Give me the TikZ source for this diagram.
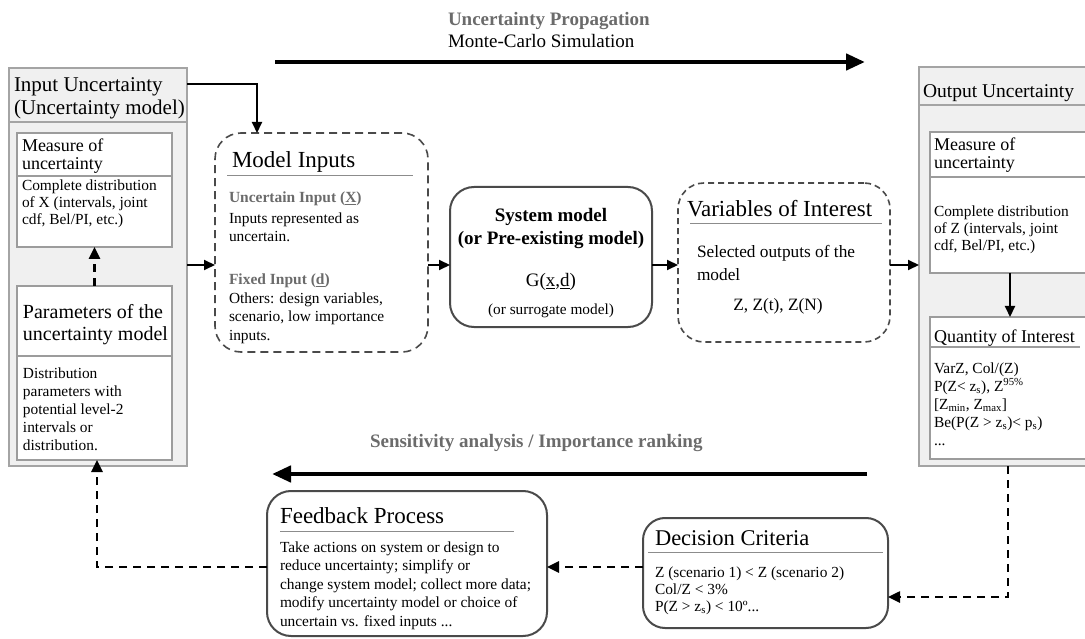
\documentclass[tikz,border=0pt]{standalone}
\usepackage{fontspec}
\setmainfont{Liberation Serif}
\usetikzlibrary{arrows.meta,calc}

\definecolor{panelfill}{HTML}{F0F0F0}
\definecolor{panelline}{HTML}{A4A4A4}
\definecolor{boxline}{HTML}{9C9C9C}
\definecolor{darkline}{HTML}{4A4A4A}
\definecolor{labelgray}{HTML}{6B6B6B}
\definecolor{rulegray}{HTML}{8C8C8C}

\newcommand{\fs}[2]{\fontsize{#1}{#2}\selectfont}

\begin{document}
\begin{tikzpicture}[x=1pt,y=-1pt,
  panel/.style={draw=panelline, fill=panelfill, line width=1.3pt, rectangle,
    inner sep=0pt, outer sep=0pt, anchor=north west},
  innerbox/.style={draw=boxline, fill=white, line width=1.2pt, rectangle,
    inner sep=0pt, outer sep=0pt, anchor=north west},
  dashbox/.style={draw=darkline, line width=1.6pt, dash pattern=on 8pt off 5pt,
    rounded corners=26pt, rectangle, inner sep=0pt, outer sep=0pt, anchor=north west},
  solidbox/.style={draw=darkline, line width=2pt, fill=white, rounded corners=24pt,
    rectangle, inner sep=0pt, outer sep=0pt, anchor=north west},
  txt/.style={anchor=base west, inner sep=0pt, outer sep=0pt},
  ctxt/.style={anchor=base, inner sep=0pt, outer sep=0pt},
  label/.style={txt, text=labelgray, font=\bfseries\fs{19}{22}},
  sub/.style={txt, text=labelgray, font=\bfseries\fs{15.5}{18}},
  body/.style={txt, font=\fs{15.4}{18}},
  title/.style={txt, font=\fs{23}{26}},
  titlerule/.style={rulegray, line width=1pt},
  flow/.style={line width=2pt, -{Triangle[length=11pt,width=10pt]}},
  bigflow/.style={line width=4.5pt, -{Triangle[length=19pt,width=16pt]}},
  back/.style={line width=2.5pt, dash pattern=on 8pt off 6pt,
    -{Triangle[length=12pt,width=11pt]}}
]
\useasboundingbox (0,0) rectangle (1085,639);

% ---------- input uncertainty panel ----------
\node[panel, minimum width=178pt, minimum height=398pt] (inpanel) at (9,68) {};
\draw[panelline, line width=1.2pt] (9,122) -- (187,122);
\node[txt, font=\fs{21}{23}] (inheadA) at (14,92) {Input Uncertainty};
\node[txt, font=\fs{21}{23}] (inheadB) at (14,115) {(Uncertainty model)};

\node[innerbox, minimum width=155pt, minimum height=114pt] (inmeas) at (17,133) {};
\draw[boxline, line width=1.1pt] (17,176) -- (172,176);
\node[txt, font=\fs{18}{20}] (inmeasA) at (22,152) {Measure of};
\node[txt, font=\fs{18}{20}] (inmeasB) at (22,170) {uncertainty};
\node[body] (inmeasC) at (22,191) {Complete distribution};
\node[body] (inmeasD) at (22,208) {of X (intervals, joint};
\node[body] (inmeasE) at (22,225) {cdf, Bel/PI, etc.)};

\node[innerbox, minimum width=155pt, minimum height=174pt] (inpar) at (17,286) {};
\draw[boxline, line width=1.1pt] (17,356) -- (172,356);
\node[txt, font=\fs{20}{23}] (inparA) at (23,318) {Parameters of the};
\node[txt, font=\fs{20}{23}] (inparB) at (23,341) {uncertainty model};
\node[body] (inparC) at (23,378) {Distribution};
\node[body] (inparD) at (23,396) {parameters with};
\node[body] (inparE) at (23,414) {potential level-2};
\node[body] (inparF) at (23,432) {intervals or};
\node[body] (inparG) at (23,450) {distribution.};

\draw[back] (inpar.north) -- (inmeas.south);

% ---------- model inputs ----------
\node[dashbox, minimum width=213pt, minimum height=219pt] (minputs) at (215,133) {};
\node[title] (minputsT) at (232,168) {Model Inputs};
\draw[titlerule] (227,176) -- (413,176);
\node[sub] (minputsA) at (229,203) {Uncertain Input (\underline{X})};
\node[body] (minputsB) at (229,224) {Inputs represented as};
\node[body] (minputsC) at (229,242) {uncertain.};
\node[sub] (minputsD) at (229,285) {Fixed Input (\underline{d})};
\node[body] (minputsE) at (229,304) {Others: design variables,};
\node[body] (minputsF) at (229,322) {scenario, low importance};
\node[body] (minputsG) at (229,340) {inputs.};

% ---------- system model ----------
\node[solidbox, minimum width=202pt, minimum height=140pt] (sysm) at (450,187) {};
\node[ctxt, font=\bfseries\fs{19}{23}] (sysmA) at (551,222) {System model};
\node[ctxt, font=\bfseries\fs{19}{23}] (sysmB) at (551,245) {(or Pre-existing model)};
\node[ctxt, font=\fs{19}{23}] (sysmC) at (551,287) {G(\underline{x},\underline{d})};
\node[ctxt, font=\fs{15.3}{18}] (sysmD) at (551,315) {(or surrogate model)};

% ---------- variables of interest ----------
\node[dashbox, dash pattern=on 6pt off 4pt, minimum width=212pt, minimum height=159pt] (voi) at (678,183) {};
\node[title] (voiT) at (687,217) {Variables of Interest};
\draw[titlerule] (690,224) -- (882,224);
\node[txt, font=\fs{17.3}{21}] (voiA) at (697,258) {Selected outputs of the};
\node[txt, font=\fs{17.3}{21}] (voiB) at (697,280) {model};
\node[ctxt, font=\fs{17.3}{21}] (voiC) at (778,311) {Z, Z(t), Z(N)};

% ---------- output uncertainty panel ----------
\node[panel, minimum width=180pt, minimum height=399pt] (outpanel) at (919,67) {};
\draw[panelline, line width=1.2pt] (919,105) -- (1099,105);
\node[txt, font=\fs{19.5}{23}] (outhead) at (923,98) {Output Uncertainty};

\node[innerbox, minimum width=165pt, minimum height=141pt] (outmeas) at (930,132) {};
\draw[boxline, line width=1.1pt] (930,177) -- (1095,177);
\node[txt, font=\fs{18}{20}] (outmeasA) at (934,151) {Measure of};
\node[txt, font=\fs{18}{20}] (outmeasB) at (934,169) {uncertainty};
\node[body] (outmeasC) at (934,217) {Complete distribution};
\node[body] (outmeasD) at (934,234) {of Z (intervals, joint};
\node[body] (outmeasE) at (934,251) {cdf, Bel/PI, etc.)};

\node[innerbox, minimum width=165pt, minimum height=142pt] (outqoi) at (930,317) {};
\node[txt, font=\fs{18}{20}] (outqoiT) at (934,342) {Quantity of Interest};
\draw[boxline, line width=1.1pt] (930,347) -- (1080,347);
\node[body] (outqoiA) at (934,373) {VarZ, Col/(Z)};
\node[body] (outqoiB) at (934,391) {P(Z< z\textsubscript{s}), Z\textsuperscript{95\%}};
\node[body] (outqoiC) at (934,409) {[Z\textsubscript{min}, Z\textsubscript{max}]};
\node[body] (outqoiD) at (934,427) {Be(P(Z > z\textsubscript{s})< p\textsubscript{s})};
\node[body] (outqoiE) at (934,445) {...};

\coordinate (qx) at (1010,0);
\draw[flow] (outmeas.south -| qx) -- (outqoi.north -| qx);

% ---------- forward chain ----------
\coordinate (row) at (0,265);
\coordinate (hd) at (0,84);
\coordinate (dn) at (257,0);
\draw[flow] (inpanel.east |- hd) -| (minputs.north -| dn);
\draw[flow] (inpanel.east |- row) -- (minputs.west |- row);
\draw[flow] (minputs.east |- row) -- (sysm.west |- row);
\draw[flow] (sysm.east |- row) -- (voi.west |- row);
\draw[flow] (voi.east |- row) -- (outpanel.west |- row);

% ---------- propagation arrow ----------
\node[label] (propA) at (448,26) {Uncertainty Propagation};
\node[txt, font=\fs{19}{22}] (propB) at (448,48) {Monte-Carlo Simulation};
\coordinate (pa) at (275,62);
\coordinate (pb) at (865,62);
\draw[bigflow] (pa) -- (pb);

% ---------- sensitivity arrow ----------
\node[label] (sens) at (370,447) {Sensitivity analysis / Importance ranking};
\coordinate (sa) at (867,474);
\coordinate (sb) at (272,474);
\draw[bigflow] (sa) -- (sb);

% ---------- decision criteria ----------
\node[solidbox, rounded corners=22pt, minimum width=245pt, minimum height=110pt] (dec) at (643,518) {};
\node[txt, font=\fs{22.5}{26}] (decT) at (655,545) {Decision Criteria};
\draw[titlerule] (648,552) -- (883,552);
\node[body] (decA) at (655,577) {Z (scenario 1) < Z (scenario 2)};
\node[body] (decB) at (655,594) {Col/Z < 3\%};
\node[body] (decC) at (655,611) {P(Z > z\textsubscript{s}) < 10º...};

% ---------- feedback process ----------
\node[solidbox, minimum width=280pt, minimum height=145pt] (fb) at (267,491) {};
\node[title] (fbT) at (280,523) {Feedback Process};
\draw[titlerule] (280,531) -- (514,531);
\node[body] (fbA) at (280,552) {Take actions on system or design to};
\node[body] (fbB) at (280,570.5) {reduce uncertainty; simplify or};
\node[body] (fbC) at (280,589) {change system model; collect more data;};
\node[body] (fbD) at (280,607.5) {modify uncertainty model or choice of};
\node[body] (fbE) at (280,626) {uncertain vs. fixed inputs ...};

% ---------- feedback loop ----------
\coordinate (dx) at (1008,0);
\coordinate (dy) at (0,597);
\coordinate (fy) at (0,567);
\coordinate (lx) at (97,0);
\draw[back] (outpanel.south -| dx) |- (dec.east |- dy);
\draw[back] (dec.west |- fy) -- (fb.east |- fy);
\draw[back] (fb.west |- fy) -| (inpar.south -| lx);
\end{tikzpicture}
\end{document}
